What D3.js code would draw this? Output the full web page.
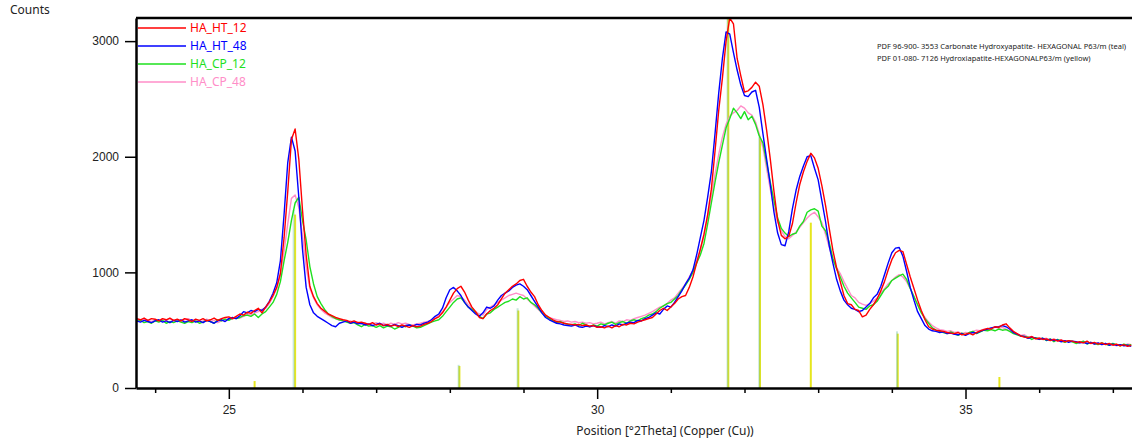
<!DOCTYPE html>
<html>
<head>
<meta charset="utf-8">
<script src="https://cdn.jsdelivr.net/npm/d3@7"></script>
<style>
  body { margin: 0; background: #fff; }
  svg { display: block; font-family: "Noto Sans", sans-serif; }
  .axis path, .axis line { stroke: #000; }
  .axis text { font-size: 12px; fill: #222; }
</style>
</head>
<body>
<svg id="chart"></svg>
<script>
var width = 1132;
var height = 441;
var margin = {top: 18, right: 0, bottom: 53, left: 136};

// sampling grid of the scans (degrees 2theta)
var startAngle = 23.75;
var stepAngle = 0.05;

var seriesNames = ['HA_HT_12', 'HA_HT_48', 'HA_CP_12', 'HA_CP_48'];

var HA_HT_12 = [
  600,590,605,585,600,595,580,600,590,605,
  585,595,580,600,590,575,595,585,600,580,
  590,605,585,600,610,615,600,620,640,630,
  655,645,670,690,650,700,745,800,870,990,
  1300,1700,2150,2240,1980,1540,1150,880,790,730,
  690,665,640,625,610,600,590,585,570,580,
  565,570,560,550,565,545,555,540,550,535,
  545,530,545,535,525,540,530,535,550,560,
  575,600,615,650,700,760,820,860,880,830,
  760,700,660,610,600,640,670,690,720,770,
  820,850,880,900,930,940,880,830,790,720,
  670,630,610,590,575,570,560,555,550,545,
  550,540,545,535,540,525,530,520,535,520,
  540,530,550,545,560,555,570,580,590,600,
  610,640,670,690,670,700,730,770,790,800,
  870,960,1080,1200,1330,1500,1720,2050,2400,2680,
  3000,3200,3150,2850,2700,2560,2570,2600,2645,2610,
  2450,2230,1980,1700,1450,1320,1290,1310,1420,1600,
  1760,1870,1960,2030,1990,1900,1750,1580,1380,1190,
  1040,920,800,730,720,680,670,615,630,680,
  720,770,840,920,1020,1110,1170,1190,1180,1070,
  960,860,760,670,590,530,510,500,495,490,
  480,475,470,480,460,465,475,460,480,495,
  505,515,510,530,525,545,555,520,490,470,
  450,440,435,445,425,430,420,425,410,420,
  405,415,400,410,405,395,400,390,405,385,
  395,380,390,375,385,370,380,365,375,360,
  370
];

var HA_HT_48 = [
  580,570,585,575,565,580,590,570,580,565,
  585,575,590,570,580,590,570,580,565,585,
  575,560,580,590,575,600,610,600,625,660,
  650,670,660,680,670,700,750,820,910,1100,
  1500,1950,2170,2050,1650,1200,870,720,650,620,
  600,580,560,540,530,560,570,580,560,570,
  555,560,545,555,540,550,560,540,545,535,
  550,540,525,540,545,535,550,545,560,570,
  590,620,640,690,780,850,870,840,800,740,
  700,670,640,620,650,700,690,710,760,800,
  820,840,870,890,900,880,850,800,750,700,
  650,610,590,575,560,555,545,540,535,545,
  530,525,535,530,540,530,525,540,530,545,
  535,555,545,560,570,565,585,580,600,610,
  630,650,640,680,710,700,740,790,840,900,
  950,1020,1150,1300,1450,1650,1870,2200,2550,2850,
  3080,3060,2900,2750,2620,2530,2520,2560,2575,2430,
  2200,1980,1760,1520,1340,1240,1230,1350,1550,1710,
  1830,1920,2000,2010,1900,1800,1620,1440,1230,1080,
  940,840,760,720,690,680,660,670,700,730,
  780,810,880,980,1080,1170,1210,1215,1140,1010,
  870,760,660,600,540,510,495,490,480,485,
  470,475,465,460,470,455,470,480,475,490,
  500,510,520,525,530,540,530,510,480,465,
  450,445,430,440,430,420,430,415,420,410,
  415,400,410,395,405,400,390,395,385,395,
  380,390,375,385,370,380,370,375,365,370,
  360
];

var HA_CP_12 = [
  575,585,565,575,560,580,570,585,560,575,
  565,580,570,560,575,565,580,560,570,585,
  575,560,590,580,595,585,605,600,610,625,
  630,620,640,610,640,660,700,740,810,920,
  1100,1260,1450,1600,1650,1450,1280,1050,900,790,
  730,680,640,620,600,590,580,570,560,565,
  545,530,550,535,540,525,540,520,535,530,
  510,525,540,530,545,535,520,525,540,555,
  570,580,590,620,660,700,740,770,780,740,
  700,680,650,620,600,640,650,680,700,720,
  740,750,770,760,790,770,780,740,720,690,
  650,620,600,580,565,575,560,550,545,555,
  540,560,545,530,545,535,555,545,560,570,
  550,565,575,560,580,590,580,600,610,630,
  640,660,690,710,730,740,770,800,850,890,
  940,1000,1080,1150,1250,1420,1600,1780,1950,2100,
  2250,2330,2420,2380,2330,2390,2320,2350,2280,2180,
  2120,1950,1780,1620,1470,1380,1340,1310,1330,1340,
  1400,1440,1520,1540,1550,1530,1400,1360,1260,1120,
  1030,960,880,820,780,740,700,690,680,710,
  720,750,800,850,880,930,950,970,985,940,
  860,790,720,650,600,560,520,500,490,480,
  470,485,470,455,475,460,480,490,470,485,
  500,495,505,495,510,500,505,490,470,460,
  450,445,440,420,435,425,430,410,425,400,
  420,405,395,410,400,385,395,405,380,395,
  385,375,390,380,370,385,375,365,380,370,
  375
];

var HA_CP_48 = [
  590,580,595,585,575,590,580,595,585,600,
  580,590,575,590,600,580,590,570,580,595,
  575,585,565,580,590,600,595,610,605,620,
  640,630,650,660,680,690,730,790,860,980,
  1180,1420,1640,1670,1560,1320,1050,860,780,720,
  680,650,630,610,600,585,590,570,580,565,
  570,555,560,545,555,565,550,560,545,560,
  550,565,555,560,550,545,555,560,570,575,
  590,600,630,660,700,740,770,800,790,760,
  720,690,660,640,630,680,700,720,740,760,
  780,800,810,820,810,800,770,740,710,680,
  650,630,610,600,590,585,575,580,570,575,
  565,570,560,565,555,560,570,555,565,575,
  560,580,575,590,585,600,610,620,630,645,
  660,680,700,710,730,760,780,820,860,900,
  960,1020,1100,1190,1320,1480,1660,1850,2020,2170,
  2280,2350,2380,2400,2440,2420,2380,2360,2300,2200,
  2080,1900,1720,1560,1440,1360,1310,1290,1320,1350,
  1390,1430,1470,1500,1520,1480,1430,1330,1220,1110,
  1040,990,920,860,800,780,740,725,715,730,
  750,780,820,860,900,930,960,980,960,920,
  860,790,720,660,610,570,540,520,505,500,
  490,495,480,485,470,480,475,490,500,495,
  510,505,520,530,515,525,510,495,480,470,
  455,460,440,445,430,435,425,430,415,425,
  410,415,405,410,400,395,390,400,385,395,
  380,390,375,385,370,380,365,375,370,380,
  375
];

// reference patterns (position, relative counts)
var tealPos = [25.88, 28.12, 28.92, 31.77, 32.20, 34.07];
var tealInt = [1540, 200, 690, 3300, 2170, 490];
var yellowPos = [25.35, 25.90, 28.13, 28.93, 31.78, 32.21, 32.90, 34.08, 35.46];
var yellowInt = [60, 1500, 190, 670, 3300, 2170, 1430, 470, 95];

var xTicks = [25, 30, 35];
var xMinorTicks = [24, 26, 27, 28, 29, 31, 32, 33, 34, 36, 37];
var yTicks = [0, 1000, 2000, 3000];

var annotations = [
  'PDF 96-900- 3553 Carbonate Hydroxyapatite- HEXAGONAL P63/m (teal)',
  'PDF 01-080- 7126 Hydroxiapatite-HEXAGONALP63/m (yellow)'
];

var colors = ['#ff0000', '#0000ff', '#1ee01e', '#ff8ec8'];

var xScale;
var yScale;
var svg;

function toPoints(values){
  return values.map(function(v, i){
    return {angle: startAngle + i * stepAngle, counts: v};
  });
}

function drawSticks(pos, ints, color, width, opacity){
  svg.append('g')
      .attr('clip-path', 'url(#plot-clip)')
    .selectAll('line')
    .data(d3.zip(pos, ints))
    .enter()
    .append('line')
      .attr('x1', d => xScale(d[0]))
      .attr('x2', d => xScale(d[0]))
      .attr('y1', yScale(0))
      .attr('y2', d => yScale(d[1]))
      .attr('stroke', color)
      .attr('stroke-width', width)
      .attr('opacity', opacity);
}

function initializeChart(){
  var series = [HA_HT_12, HA_HT_48, HA_CP_12, HA_CP_48];

  xScale = d3.scaleLinear()
              .domain([23.74, 37.26])
              .range([margin.left, width - margin.right]);

  yScale = d3.scaleLinear()
              .domain([0, 3200])
              .range([height - margin.bottom, margin.top]);

  svg = d3.select('#chart')
            .attr('width', width)
            .attr('height', height);

  svg.append('clipPath')
      .attr('id', 'plot-clip')
    .append('rect')
      .attr('x', margin.left)
      .attr('y', margin.top)
      .attr('width', width - margin.left - margin.right)
      .attr('height', height - margin.top - margin.bottom);

  // reference sticks
  drawSticks(yellowPos, yellowInt, '#e6e61e', 2, 1);
  drawSticks(tealPos, tealInt, '#5fb89a', 2, 0.35);

  // scans, last legend entry drawn first
  var line = d3.line()
                .x(d => xScale(d.angle))
                .y(d => yScale(d.counts));

  var order = [3, 2, 1, 0];
  svg.append('g')
      .attr('clip-path', 'url(#plot-clip)')
    .selectAll('path')
    .data(order)
    .enter()
    .append('path')
      .attr('fill', 'none')
      .attr('stroke', i => colors[i])
      .attr('stroke-width', 1.4)
      .attr('stroke-linejoin', 'round')
      .attr('d', i => line(toPoints(series[i])));

  // x axis
  svg.append('g')
      .classed('axis', true)
      .attr('transform', `translate(0, ${height - margin.bottom})`)
      .call(d3.axisBottom(xScale)
                .tickValues(xMinorTicks)
                .tickSize(5)
                .tickFormat(''))
      .call(g => g.selectAll('line').attr('stroke-width', 1.5))
      .call(g => g.select('.domain').remove());

  svg.append('g')
      .classed('axis', true)
      .attr('transform', `translate(0, ${height - margin.bottom})`)
      .call(d3.axisBottom(xScale)
                .tickValues(xTicks)
                .tickSize(11)
                .tickSizeOuter(0)
                .tickPadding(6))
      .call(g => g.selectAll('line').attr('stroke-width', 1.5))
      .call(g => g.select('.domain').attr('stroke-width', 2.5));

  // y axis
  svg.append('g')
      .classed('axis', true)
      .attr('transform', `translate(${margin.left}, 0)`)
      .call(d3.axisLeft(yScale)
                .tickValues(yTicks)
                .tickSize(11)
                .tickSizeOuter(0)
                .tickPadding(6)
                .tickFormat(d3.format('d')))
      .call(g => g.selectAll('line').attr('stroke-width', 1.5))
      .call(g => g.select('.domain').attr('stroke-width', 2.5));

  // top frame
  svg.append('line')
      .attr('x1', margin.left)
      .attr('x2', width)
      .attr('y1', margin.top)
      .attr('y2', margin.top)
      .attr('stroke', '#000')
      .attr('stroke-width', 2.5);

  // axis labels
  svg.append('text')
      .attr('x', 10)
      .attr('y', 14)
      .style('font-size', '12px')
      .attr('fill', '#222')
      .text('Counts');

  svg.append('text')
      .attr('x', 665)
      .attr('y', height - 6)
      .style('text-anchor', 'middle')
      .style('font-size', '12px')
      .attr('fill', '#222')
      .text('Position [°2Theta] (Copper (Cu))');

  // legend
  var legend = svg.append('g')
                  .selectAll('g')
                  .data(seriesNames)
                  .enter()
                  .append('g')
                    .attr('transform', (d, i) => `translate(${margin.left + 2}, ${margin.top + 10 + i * 18})`);

  legend.append('line')
      .attr('x1', 0)
      .attr('x2', 48)
      .attr('stroke', (d, i) => colors[i])
      .attr('stroke-width', 1.4);

  legend.append('text')
      .attr('x', 52)
      .attr('dy', '0.35em')
      .style('font-size', '12px')
      .attr('fill', (d, i) => colors[i])
      .text(d => d);

  // pattern annotation
  svg.append('g')
    .selectAll('text')
    .data(annotations)
    .enter()
    .append('text')
      .attr('x', 877)
      .attr('y', (d, i) => 49 + i * 12)
      .style('font-size', '7.5px')
      .attr('fill', '#222')
      .text(d => d);
}

initializeChart();
</script>
</body>
</html>
